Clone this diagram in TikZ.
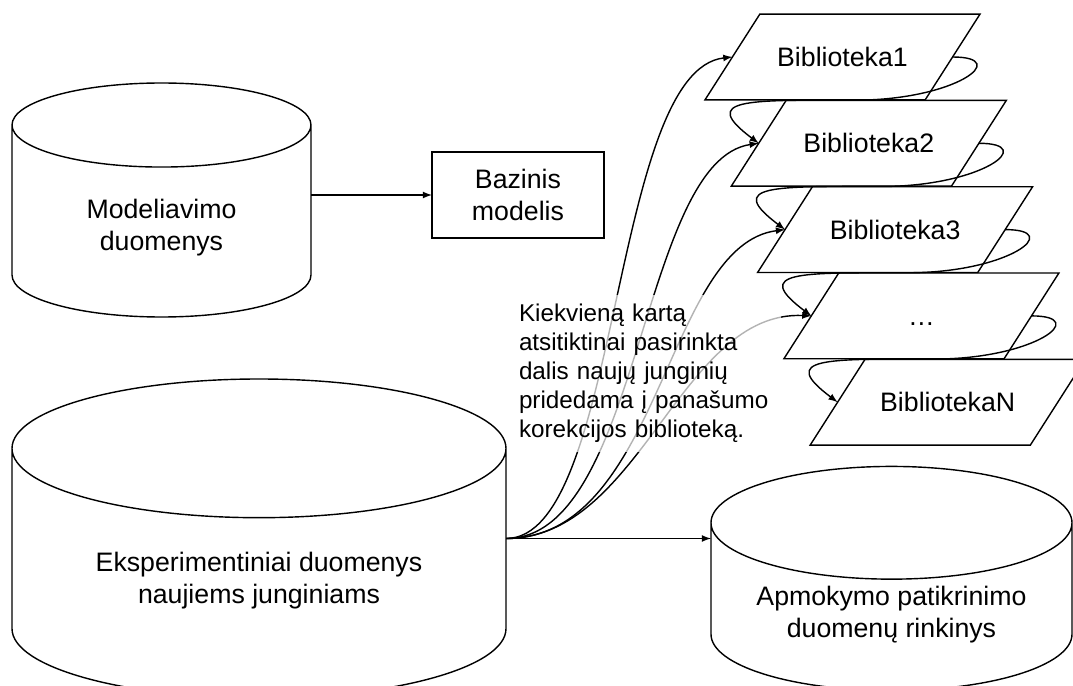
\documentclass[tikz,border=0pt]{standalone}
\usepackage{fontspec}
\setmainfont{Liberation Sans}
\usetikzlibrary{shapes.geometric,arrows,positioning,calc}

\def\pxu{0.02cm}
\tikzstyle{dbase} = [draw, cylinder, shape border rotate=90, align=center, outer sep=0pt,
    anchor=shape center]
\tikzstyle{block} = [draw, rectangle, align=center, outer sep=0pt,
    minimum width=172*\pxu, minimum height=86*\pxu]
\tikzstyle{lib} = [draw, trapezium, trapezium left angle=57.4, trapezium right angle=122.6,
    trapezium stretches body, outer sep=0pt, text height=10.9pt, text depth=0pt,
    inner ysep=18.95pt, minimum width=275*\pxu]
\tikzstyle{note} = [fill=white, fill opacity=0.7, text opacity=1, align=left,
    text width=253*\pxu, inner xsep=9*\pxu, minimum height=157*\pxu,
    font=\fontsize{13.8}{16.5}\selectfont]

\begin{document}
\begin{tikzpicture}[x=0.02cm, y=-0.02cm, >=latex, line width=0.8pt,
    font=\fontsize{15.2}{18.2}\selectfont]
\useasboundingbox (0,0) rectangle (1073,686);

% data stores and the base model
\node [dbase, shape aspect=0.52, minimum width=299*\pxu, minimum height=234*\pxu]
    (model) at (161.5,200) {Modeliavimo\\duomenys};
\node [block] (base) at (518,195) {Bazinis\\modelis};
\node [dbase, shape aspect=0.41, minimum width=494*\pxu, minimum height=319*\pxu]
    (exper) at (259,538.5) {Eksperimentiniai duomenys\\naujiems junginiams};
\node [dbase, shape aspect=0.4, minimum width=361*\pxu, minimum height=223*\pxu]
    (train) at (891.5,578.5) {Apmokymo patikrinimo\\duomenų rinkinys};
\coordinate (fan) at (exper.shape center -| exper.east);

% libraries
\node [lib] (lib1) at (842.5,57) {Biblioteka1};
\node [lib] (lib2) at (868.8,143.3) {Biblioteka2};
\node [lib] (lib3) at (895.1,229.6) {Biblioteka3};
\node [lib] (lib4) at (921.4,315.9) {…};
\node [lib] (lib5) at (947.7,402.2) {BibliotekaN};

\draw [->] (base.west -| model.east) -- (base.west);
\draw [->] (fan) -- (fan -| train.west);

% random part of the new compounds goes to every library
\draw [->] (fan) .. controls +(115,0) and +(-122,13) .. (lib1.left side);
\draw [->] (fan) .. controls +(135,0) and +(-119,17) .. (lib2.left side);
\draw [->] (fan) .. controls +(155,0) and +(-120,15) .. (lib3.left side);
\draw [->] (fan) .. controls +(135,0) and +(-131,-6) .. (lib4.left side);

\node [note] (info) at (645.5,373.5) {Kiekvieną kartą\\atsitiktinai pasirinkta\\dalis naujų junginių\\pridedama į panašumo\\korekcijos biblioteką.};

% library to library
\foreach \a/\b in {lib1/lib2, lib2/lib3, lib3/lib4, lib4/lib5}
  \draw [->] (\a.right side) .. controls +(60,0) and +(100,0)
    .. ($(\a.right side)!.5!(\b.left side)$) .. controls +(-110,0) and +(-60,-45)
    .. (\b.left side);

\end{tikzpicture}
\end{document}
